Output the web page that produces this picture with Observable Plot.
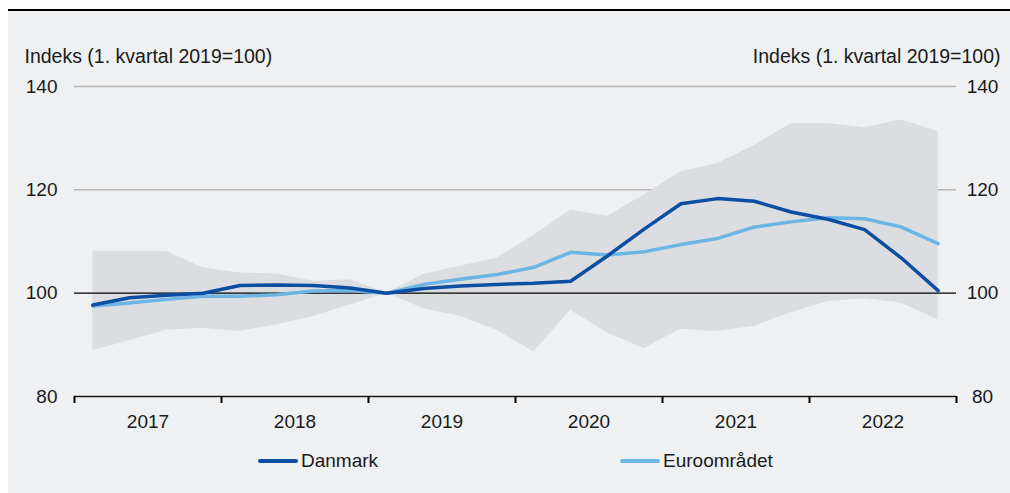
<!DOCTYPE html>
<html>
<head>
<meta charset="utf-8">
<script src="https://cdn.jsdelivr.net/npm/d3@7"></script>
<script src="https://cdn.jsdelivr.net/npm/@observablehq/plot@0.6"></script>
<style>
  html, body { margin: 0; padding: 0; background: #ffffff; }
  #wrap { position: relative; width: 1010px; height: 493px; overflow: hidden; font-family: "Liberation Sans", Arial, sans-serif; color: #1a1a1a; }
  #bg { position: absolute; left: 8px; top: 9px; width: 1002px; height: 484px; background: #eff0f2; border-top: 2px solid #000; box-sizing: border-box; }
  #chart { position: absolute; left: 0; top: 0; }
  .legend-item { position: absolute; top: 450px; display: flex; align-items: center; font-size: 19px; height: 22px; }
  .swatch { display: inline-block; width: 40px; height: 4px; border-radius: 2px; margin-right: 3px; }
</style>
</head>
<body>
<div id="wrap">
  <div id="bg"></div>
  <div id="chart"></div>
  <div class="legend-item" style="left:258px"><span class="swatch" style="background:#0b4ea2"></span>Danmark</div>
  <div class="legend-item" style="left:620px"><span class="swatch" style="background:#6cb5e5"></span>Euroområdet</div>
</div>
<script>
const quarters = [
  "2017K1","2017K2","2017K3","2017K4",
  "2018K1","2018K2","2018K3","2018K4",
  "2019K1","2019K2","2019K3","2019K4",
  "2020K1","2020K2","2020K3","2020K4",
  "2021K1","2021K2","2021K3","2021K4",
  "2022K1","2022K2","2022K3","2022K4"
];
const danmark = [97.7, 99.1, 99.6, 100.0, 101.5, 101.6, 101.5, 101.0, 100.0, 100.9, 101.4, 101.7,
                 101.9, 102.3, 107.2, 112.4, 117.3, 118.3, 117.8, 115.7, 114.3, 112.3, 106.8, 100.5];
const euroomraadet = [97.5, 98.1, 98.8, 99.4, 99.4, 99.7, 100.4, 100.5, 100.0, 101.7, 102.7, 103.6,
                      105.0, 107.9, 107.4, 108.0, 109.4, 110.6, 112.8, 113.8, 114.6, 114.4, 112.8, 109.6];
const spanHigh = [108.1, 108.1, 108.1, 104.9, 103.9, 103.7, 102.3, 102.6, 100.0, 103.6, 105.2, 106.8,
                  111.2, 116.1, 114.9, 119.0, 123.5, 125.1, 128.6, 132.8, 132.8, 132.0, 133.5, 131.3];
const spanLow = [88.9, 90.8, 92.8, 93.2, 92.6, 93.9, 95.5, 97.7, 100.0, 97.0, 95.5, 92.8,
                 88.6, 96.7, 92.3, 89.3, 93.0, 92.6, 93.6, 96.2, 98.4, 98.9, 98.1, 94.8];
const yearLabels = [2017, 2018, 2019, 2020, 2021, 2022];
const yearBounds = [2017, 2018, 2019, 2020, 2021, 2022, 2023];
const yTicks = [80, 100, 120, 140];
const gridValues = [120, 140];
const axisTitle = "Indeks (1. kvartal 2019=100)";

// quarter midpoint in decimal years
const qx = q => +q.slice(0, 4) + (+q.slice(5) - 0.5) / 4;
const data = quarters.map((q, i) => ({
  t: qx(q), dk: danmark[i], ea: euroomraadet[i], lo: spanLow[i], hi: spanHigh[i]
}));

const darkBlue = "#0b4ea2";
const lightBlue = "#6cb5e5";

const plot = Plot.plot({
  width: 1010,
  height: 440,
  marginLeft: 74,
  marginRight: 54,
  marginTop: 86,
  marginBottom: 44,
  x: { domain: [2017, 2023], axis: null },
  y: { domain: [80, 140], axis: null },
  style: { background: "transparent", fontFamily: "'Liberation Sans', Arial, sans-serif", fontSize: "19px", color: "#1a1a1a", overflow: "visible" },
  marks: [
    Plot.ruleY(gridValues, { stroke: "#b5b5b5", strokeWidth: 1.5 }),
    Plot.areaY(data, { x: "t", y1: "lo", y2: "hi", fill: "#dcdde0" }),
    Plot.ruleY([100], { stroke: "#000", strokeWidth: 1.3 }),
    Plot.ruleY([80], { stroke: "#1a1a1a", strokeWidth: 1.5 }),
    Plot.axisX({ ticks: yearBounds, tickSize: 7, tickFormat: () => "", label: null, stroke: "#000", strokeWidth: 2 }),
    Plot.text(yearLabels, { x: d => d + 0.5, y: 80, dy: 25, text: d => String(d), fill: "#1a1a1a", fontSize: 19 }),
    Plot.text(yTicks, { x: 2017, y: d => d, dx: -17, textAnchor: "end", text: d => String(d), fill: "#1a1a1a", fontSize: 19 }),
    Plot.text(yTicks, { x: 2023, y: d => d, dx: 26, textAnchor: "middle", text: d => String(d), fill: "#1a1a1a", fontSize: 19 }),
    Plot.line(data, { x: "t", y: "ea", stroke: lightBlue, strokeWidth: 3.5 }),
    Plot.line(data, { x: "t", y: "dk", stroke: darkBlue, strokeWidth: 3.5 }),
    Plot.text([axisTitle], { frameAnchor: "top-left", dx: -50, dy: -37, textAnchor: "start", text: d => d, fill: "#1a1a1a", fontSize: 19.5 }),
    Plot.text([axisTitle], { frameAnchor: "top-right", dx: 44, dy: -37, textAnchor: "end", text: d => d, fill: "#1a1a1a", fontSize: 19.5 })
  ]
});
document.getElementById("chart").appendChild(plot);
</script>
</body>
</html>
